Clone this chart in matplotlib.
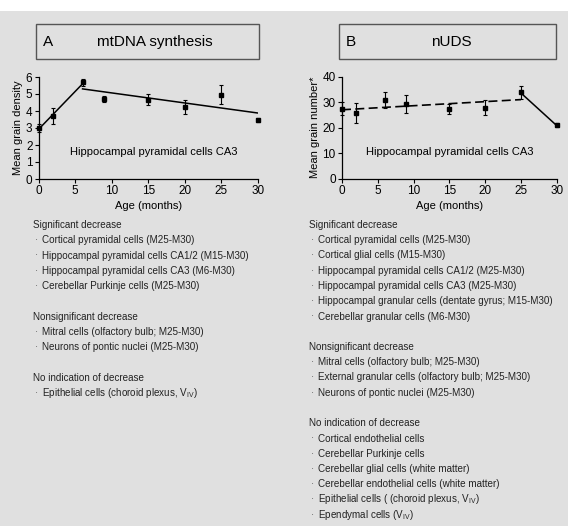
import numpy as np
import matplotlib
matplotlib.use("Agg")
import matplotlib.pyplot as plt
from matplotlib.patches import Rectangle

plt.rcParams['font.family'] = ['Liberation Sans', 'DejaVu Sans']
plt.rcParams['mathtext.fontset'] = 'custom'
plt.rcParams['mathtext.rm'] = 'Liberation Sans'
plt.rcParams['mathtext.it'] = 'Liberation Sans'

# ---- data ----
age = [0, 2, 6, 9, 15, 20, 25, 30]

mt_mean = [3.0, 3.7, 5.68, 4.7, 4.67, 4.24, 4.96, 3.46]
mt_err = [0.25, 0.45, 0.22, 0.18, 0.31, 0.42, 0.55, 0.12]
mt_fit1_x = [0, 6]
mt_fit1_y = [2.93, 5.6]
mt_fit2_x = [6, 30]
mt_fit2_y = [5.3, 3.88]

ud_mean = [27.5, 25.8, 30.8, 29.4, 27.3, 27.8, 33.8, 21.0]
ud_err = [2.4, 4.0, 3.0, 3.6, 1.8, 2.9, 2.6, 0.8]
ud_fit1_x = [0, 25]
ud_fit1_y = [27.0, 31.0]
ud_fit2_x = [25, 30]
ud_fit2_y = [33.6, 20.8]

list_a = [
    ("h", "Significant decrease"),
    ("b", "Cortical pyramidal cells (M25-M30)"),
    ("b", "Hippocampal pyramidal cells CA1/2 (M15-M30)"),
    ("b", "Hippocampal pyramidal cells CA3 (M6-M30)"),
    ("b", "Cerebellar Purkinje cells (M25-M30)"),
    ("s", ""),
    ("h", "Nonsignificant decrease"),
    ("b", "Mitral cells (olfactory bulb; M25-M30)"),
    ("b", "Neurons of pontic nuclei (M25-M30)"),
    ("s", ""),
    ("h", "No indication of decrease"),
    ("b", r"Epithelial cells (choroid plexus, V$_{\mathrm{IV}}$)"),
]
list_b = [
    ("h", "Significant decrease"),
    ("b", "Cortical pyramidal cells (M25-M30)"),
    ("b", "Cortical glial cells (M15-M30)"),
    ("b", "Hippocampal pyramidal cells CA1/2 (M25-M30)"),
    ("b", "Hippocampal pyramidal cells CA3 (M25-M30)"),
    ("b", "Hippocampal granular cells (dentate gyrus; M15-M30)"),
    ("b", "Cerebellar granular cells (M6-M30)"),
    ("s", ""),
    ("h", "Nonsignificant decrease"),
    ("b", "Mitral cells (olfactory bulb; M25-M30)"),
    ("b", "External granular cells (olfactory bulb; M25-M30)"),
    ("b", "Neurons of pontic nuclei (M25-M30)"),
    ("s", ""),
    ("h", "No indication of decrease"),
    ("b", "Cortical endothelial cells"),
    ("b", "Cerebellar Purkinje cells"),
    ("b", "Cerebellar glial cells (white matter)"),
    ("b", "Cerebellar endothelial cells (white matter)"),
    ("b", r"Epithelial cells ( (choroid plexus, V$_{\mathrm{IV}}$)"),
    ("b", r"Ependymal cells (V$_{\mathrm{IV}}$)"),
]

W, H = 576, 526
bg = "#e0e0e0"
fig = plt.figure(figsize=(W / 100, H / 100), dpi=100)
fig.patch.set_facecolor("white")


def fx(px):
    return px / W


def fy(py):
    return 1 - py / H


# grey panel
fig.patches.append(Rectangle((0, 0), fx(568), fy(11), transform=fig.transFigure,
                             facecolor=bg, edgecolor="none", zorder=-10))

# title boxes
for (x0, x1, letter, title, tx) in [(36, 258.5, "A", "mtDNA synthesis", 155),
                                    (339, 556, "B", "nUDS", 451)]:
    fig.patches.append(Rectangle((fx(x0), fy(59)), fx(x1 - x0), (59 - 24) / H,
                                 transform=fig.transFigure, facecolor=bg,
                                 edgecolor="#555555", lw=1.0, zorder=-5))
    fig.text(fx(x0 + 7), fy(42), letter, fontsize=11, va="center", ha="left")
    fig.text(fx(tx), fy(42), title, fontsize=11, va="center", ha="center")


def style_ax(ax):
    ax.set_facecolor("none")
    for s in ["top", "right"]:
        ax.spines[s].set_visible(False)
    for s in ["left", "bottom"]:
        ax.spines[s].set_linewidth(0.9)
    ax.tick_params(direction="out", length=3, width=0.8, labelsize=8.5, pad=1.5)
    ax.set_xlim(0, 30)
    ax.set_xticks([0, 5, 10, 15, 20, 25, 30])
    ax.set_xlabel("Age (months)", fontsize=8, labelpad=3)


axA = fig.add_axes([fx(38.7), fy(179), fx(258 - 38.7), (179 - 77) / H])
style_ax(axA)
axA.set_ylim(0, 6)
axA.set_yticks(range(7))
axA.errorbar(age, mt_mean, yerr=mt_err, fmt="s", color="black", ms=2.2,
             elinewidth=0.8, capsize=1.5, capthick=0.8, clip_on=False)
axA.plot(mt_fit1_x, mt_fit1_y, color="black", lw=1.1)
axA.plot(mt_fit2_x, mt_fit2_y, color="black", lw=1.1)
axA.set_ylabel("Mean grain density", fontsize=8, labelpad=2)
axA.text(15.7, 1.6, "Hippocampal pyramidal cells CA3", fontsize=8, ha="center", va="center")

axB = fig.add_axes([fx(342), fy(178.5), fx(556.7 - 342), (178.5 - 76.7) / H])
style_ax(axB)
axB.set_ylim(0, 40)
axB.set_yticks([0, 10, 20, 30, 40])
axB.errorbar(age, ud_mean, yerr=ud_err, fmt="s", color="black", ms=2.2,
             elinewidth=0.8, capsize=1.5, capthick=0.8, clip_on=False)
axB.plot(ud_fit1_x, ud_fit1_y, color="black", lw=1.2, ls=(0, (5.4, 2.6)))
axB.plot(ud_fit2_x, ud_fit2_y, color="black", lw=1.1)
axB.set_ylabel("Mean grain number*", fontsize=8, labelpad=2)
axB.text(15.1, 10.4, "Hippocampal pyramidal cells CA3", fontsize=8, ha="center", va="center")


def draw_list(items, x_head, y0, step):
    y = y0
    for kind, txt in items:
        if kind == "h":
            fig.text(fx(x_head), fy(y), txt, fontsize=7.1, va="center", ha="left", color="#222222")
        elif kind == "b":
            fig.text(fx(x_head + 2), fy(y), "\u00b7", fontsize=7.1, va="center", ha="left", color="#555555")
            fig.text(fx(x_head + 9), fy(y), txt, fontsize=7.1, va="center", ha="left", color="#222222")
        y += step


draw_list(list_a, 33, 225, 15.3)
draw_list(list_b, 309, 225, 15.25)

fig.savefig("out.png", dpi=100, facecolor="white")
